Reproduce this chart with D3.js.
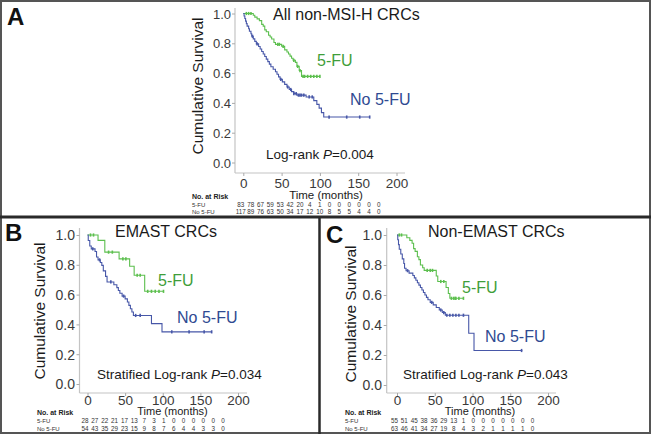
<!DOCTYPE html>
<html><head><meta charset="utf-8">
<script src="https://cdn.jsdelivr.net/npm/d3@7"></script>
<style>
body{margin:0;background:#fff}
svg{display:block}
text{font-family:"Liberation Sans",Arial,sans-serif}
</style>
</head><body>
<svg id="chart" width="651" height="434"></svg>
<script>
// ---------- DATA ----------
const xTicks = [0, 50, 100, 150, 200];
const yTicks = [0, 0.2, 0.4, 0.6, 0.8, 1.0];
const riskTimes = [0, 12, 24, 36, 48, 60, 72, 84, 96, 108, 120, 132, 144, 156, 168];
const groupNames = ["5-FU", "No 5-FU"];

// Panel A: All non-MSI-H CRCs
const aTitle = "All non-MSI-H CRCs";
const aFuSteps = [[0,1],[13,0.988],[15,0.976],[18,0.964],[21,0.952],[24,0.927],[26,0.915],[28,0.89],[30,0.878],[33,0.854],[35,0.842],[37,0.829],[40,0.805],[42,0.793],[50,0.78],[54,0.756],[57,0.742],[59,0.728],[61,0.714],[63,0.7],[65,0.686],[68,0.672],[70,0.645],[73,0.617],[76,0.578]];
const aFuEnd = 100;
const aFuCensor = [4,7,10,45,47,52,66,71,74,78,80,84,88,92,96,100];
const aNoSteps = [[0,1],[1,0.983],[2,0.966],[3,0.949],[4,0.932],[5,0.915],[7,0.898],[8,0.881],[10,0.864],[11,0.847],[13,0.83],[15,0.813],[17,0.796],[20,0.779],[22,0.762],[24,0.745],[26,0.728],[28,0.711],[30,0.694],[32,0.677],[34,0.66],[36,0.643],[39,0.626],[42,0.609],[44,0.592],[46,0.575],[48,0.558],[51,0.541],[54,0.524],[57,0.507],[60,0.49],[63,0.476],[66,0.462],[70,0.452],[82,0.44],[92,0.415],[96,0.39],[99,0.365],[102,0.335],[105,0.305]];
const aNoEnd = 165;
const aNoCensor = [12,18,49,58,62,66,69,72,74,76,79,86,90,112,135,152,165];
const aFuRisk = [83,78,67,59,53,42,20,4,1,0,0,0,0,0,0];
const aNoRisk = [117,89,76,63,50,34,17,12,10,8,5,5,4,4,0];
const aPText = ["Log-rank ", "P", "=0.004"];

// Panel B: EMAST CRCs
const bTitle = "EMAST CRCs";
const bFuSteps = [[0,1],[14,0.964],[23,0.885],[42,0.84],[56,0.79],[62,0.73],[76,0.622]];
const bFuEnd = 101;
const bFuCensor = [4,8,28,33,47,51,66,70,80,85,90,95,101];
const bNoSteps = [[0,1],[1,0.963],[3,0.926],[5,0.907],[10,0.889],[12,0.852],[14,0.833],[17,0.815],[19,0.796],[21,0.759],[24,0.722],[26,0.685],[35,0.666],[39,0.647],[41,0.628],[43,0.609],[46,0.59],[50,0.571],[53,0.55],[55,0.528],[57,0.505],[59,0.483],[61,0.46],[85,0.405],[99,0.35]];
const bNoEnd = 165;
const bNoCensor = [7,16,31,48,64,70,112,135,155,165];
const bFuRisk = [28,27,22,21,17,13,7,3,1,0,0,0,0,0,0];
const bNoRisk = [54,43,35,29,23,15,9,8,7,6,4,4,3,3,0];
const bPText = ["Stratified Log-rank ", "P", "=0.034"];

// Panel C: Non-EMAST CRCs
const cTitle = "Non-EMAST CRCs";
const cFuSteps = [[0,1],[13,0.982],[17,0.964],[20,0.945],[22,0.909],[24,0.891],[27,0.855],[29,0.836],[31,0.8],[34,0.782],[36,0.764],[52,0.727],[54,0.69],[65,0.65],[68,0.61],[70,0.578]];
const cFuEnd = 88;
const cFuCensor = [3,6,40,44,47,58,62,72,75,77,78,82,88];
const cNoSteps = [[0,1],[1,0.968],[2,0.936],[3,0.905],[5,0.873],[7,0.841],[9,0.81],[10,0.778],[12,0.762],[16,0.746],[21,0.73],[23,0.714],[25,0.698],[27,0.682],[29,0.666],[31,0.65],[33,0.633],[35,0.617],[37,0.6],[39,0.584],[41,0.568],[44,0.551],[48,0.534],[52,0.517],[56,0.5],[60,0.483],[64,0.465],[95,0.345],[102,0.23]];
const cNoEnd = 166;
const cNoCensor = [14,46,58,62,66,70,74,78,82,88,165];
const cFuRisk = [55,51,45,38,36,29,13,1,0,0,0,0,0,0,0];
const cNoRisk = [63,46,41,34,27,19,8,4,3,2,1,1,1,1,0];
const cPText = ["Stratified Log-rank ", "P", "=0.043"];

// ---------- STYLE ----------
const fuLine = "#5cbf4e", noLine = "#4757a8";
const fuText = "#3f9e3a", noText = "#2f4a92";
const axisCol = "#c4c4c4";

const svg = d3.select("#chart");
svg.append("rect").attr("width",651).attr("height",434).attr("fill","#fff");

function survAt(steps, t){
  let s = steps[0][1];
  for (const d of steps){ if (d[0] <= t) s = d[1]; }
  return s;
}

function drawPanel(c){
  const g = svg.append("g");
  const x = d3.scaleLinear().domain([0,200]).range([c.x0, c.x200]);
  const y = d3.scaleLinear().domain([0,1]).range([c.y0, c.y1]);

  g.append("line").attr("x1",c.axX).attr("x2",c.axX).attr("y1",c.axTop).attr("y2",c.axY)
    .attr("stroke",axisCol).attr("stroke-width",1.2);
  g.append("line").attr("x1",c.axX).attr("x2",c.axRight).attr("y1",c.axY).attr("y2",c.axY)
    .attr("stroke",axisCol).attr("stroke-width",1.2);

  const ya = g.append("g").attr("transform",`translate(${c.axX},0)`)
    .call(d3.axisLeft(y).tickValues(yTicks).tickFormat(d3.format(".1f")).tickSize(3));
  ya.select(".domain").remove();
  ya.selectAll(".tick line").attr("stroke","#aaa");
  ya.selectAll(".tick text").attr("x",c.yLabRight - c.axX).attr("dy","0.35em")
    .attr("font-size",c.yTickFs).attr("fill","#3a3a3a").attr("font-family","Liberation Sans, Arial, sans-serif");

  const xa = g.append("g").attr("transform",`translate(0,${c.axY})`)
    .call(d3.axisBottom(x).tickValues(xTicks).tickSize(3));
  xa.select(".domain").remove();
  xa.selectAll(".tick line").attr("stroke","#aaa");
  xa.selectAll(".tick text").attr("y",c.xLabY - c.axY).attr("dy","0.35em")
    .attr("font-size",c.xTickFs).attr("fill","#3a3a3a").attr("font-family","Liberation Sans, Arial, sans-serif");

  const line = d3.line().x(d=>x(d[0])).y(d=>y(d[1])).curve(d3.curveStepAfter);
  const series = [
    {steps:c.fuSteps, end:c.fuEnd, cens:c.fuCensor, col:fuLine},
    {steps:c.noSteps, end:c.noEnd, cens:c.noCensor, col:noLine}
  ];
  series.forEach(s=>{
    const pts = s.steps.concat([[s.end, s.steps[s.steps.length-1][1]]]);
    g.append("path").attr("d",line(pts)).attr("fill","none").attr("stroke",s.col).attr("stroke-width",1.1);
    g.selectAll(null).data(s.cens).enter().append("line")
      .attr("x1",d=>x(d)).attr("x2",d=>x(d))
      .attr("y1",d=>y(survAt(s.steps,d))-1.6).attr("y2",d=>y(survAt(s.steps,d))+1.6)
      .attr("stroke",s.col).attr("stroke-width",1.6);
  });

  g.append("text").attr("x",c.titleX).attr("y",c.titleY).attr("dy","0.35em")
    .attr("font-size",16).attr("fill","#1a1a1a").text(c.title);
  g.append("text").attr("x",c.fuLabX).attr("y",c.fuLabY).attr("dy","0.35em")
    .attr("font-size",16).attr("fill",fuText).text(groupNames[0]);
  g.append("text").attr("x",c.noLabX).attr("y",c.noLabY).attr("dy","0.35em")
    .attr("font-size",16).attr("fill",noText).text(groupNames[1]);
  const pt = g.append("text").attr("x",c.pX).attr("y",c.pY).attr("dy","0.35em")
    .attr("font-size",13.5).attr("fill","#1a1a1a");
  pt.append("tspan").text(c.pText[0]);
  pt.append("tspan").attr("font-style","italic").text(c.pText[1]);
  pt.append("tspan").text(c.pText[2]);

  g.append("text").attr("transform",`translate(${c.ylabX},${c.ylabY}) rotate(-90)`)
    .attr("text-anchor","middle").attr("dy","0.35em").attr("font-size",15.5).attr("fill","#1a1a1a")
    .text("Cumulative Survival");
  g.append("text").attr("x",c.timeX).attr("y",c.timeY).attr("dy","0.35em")
    .attr("text-anchor","middle").attr("font-size",c.timeFs).attr("fill","#1a1a1a").text("Time (months)");

  const rx = d3.scaleLinear().domain([0,168]).range([c.x0 - 2.5, c.x0 - 2.5 + 138]);
  g.append("text").attr("x",c.riskLabX).attr("y",c.riskHeadY).attr("dy","0.35em")
    .attr("font-size",7).attr("font-weight","bold").attr("fill","#222").text("No. at Risk");
  [[groupNames[0], c.fuRisk, c.riskRow1Y],[groupNames[1], c.noRisk, c.riskRow2Y]].forEach(r=>{
    g.append("text").attr("x",c.riskLabX).attr("y",r[2]).attr("dy","0.35em")
      .attr("font-size",6).attr("fill","#333").text(r[0]);
    g.selectAll(null).data(r[1]).enter().append("text")
      .attr("x",(d,i)=>rx(riskTimes[i])).attr("y",r[2]).attr("dy","0.35em")
      .attr("text-anchor","middle").attr("font-size",6.3).attr("fill","#333").text(d=>d);
  });

  svg.append("text").attr("x",c.letterX).attr("y",c.letterY)
    .attr("font-family","Lato, 'Open Sans', sans-serif").attr("font-weight","bold")
    .attr("font-size",24).attr("fill","#111").text(c.letter);
}

drawPanel({
  letter:"A", letterX:7, letterY:25,
  x0:243.3, x200:396.5, y0:162.5, y1:13.5,
  axX:235, axTop:8, axY:173, axRight:405, yLabRight:231, xLabY:183.5, yTickFs:13, xTickFs:13.5,
  title:aTitle, titleX:273, titleY:14,
  fuLabX:317, fuLabY:60, noLabX:350, noLabY:99, pX:266, pY:154, pText:aPText,
  ylabX:198, ylabY:86, timeX:326, timeY:195, timeFs:11.5,
  riskLabX:192, riskHeadY:197, riskRow1Y:204.5, riskRow2Y:212,
  fuSteps:aFuSteps, fuEnd:aFuEnd, fuCensor:aFuCensor, noSteps:aNoSteps, noEnd:aNoEnd, noCensor:aNoCensor,
  fuRisk:aFuRisk, noRisk:aNoRisk
});
drawPanel({
  letter:"B", letterX:5, letterY:241,
  x0:87.5, x200:238, y0:384, y1:235,
  axX:79.5, axTop:228, axY:393, axRight:247, yLabRight:75, xLabY:400, yTickFs:14, xTickFs:13.5,
  title:bTitle, titleX:115, titleY:231,
  fuLabX:158, fuLabY:280, noLabX:177, noLabY:317, pX:97, pY:374, pText:bPText,
  ylabX:40, ylabY:311, timeX:172.5, timeY:411, timeFs:11,
  riskLabX:37, riskHeadY:413, riskRow1Y:420.8, riskRow2Y:428.4,
  fuSteps:bFuSteps, fuEnd:bFuEnd, fuCensor:bFuCensor, noSteps:bNoSteps, noEnd:bNoEnd, noCensor:bNoCensor,
  fuRisk:bFuRisk, noRisk:bNoRisk
});
drawPanel({
  letter:"C", letterX:326, letterY:243,
  x0:397, x200:548, y0:385, y1:235,
  axX:386.7, axTop:228, axY:393, axRight:556, yLabRight:382, xLabY:400, yTickFs:14, xTickFs:13.5,
  title:cTitle, titleX:428, titleY:231,
  fuLabX:462, fuLabY:287, noLabX:485, noLabY:336, pX:403, pY:374, pText:cPText,
  ylabX:351, ylabY:314, timeX:480, timeY:411, timeFs:11,
  riskLabX:345, riskHeadY:413, riskRow1Y:421, riskRow2Y:428.6,
  fuSteps:cFuSteps, fuEnd:cFuEnd, fuCensor:cFuCensor, noSteps:cNoSteps, noEnd:cNoEnd, noCensor:cNoCensor,
  fuRisk:cFuRisk, noRisk:cNoRisk
});

svg.append("rect").attr("x",1).attr("y",1).attr("width",649).attr("height",432)
  .attr("fill","none").attr("stroke","#555").attr("stroke-width",2);
svg.append("line").attr("x1",0).attr("x2",651).attr("y1",217).attr("y2",217)
  .attr("stroke","#2a2a2a").attr("stroke-width",3);
svg.append("line").attr("x1",319.5).attr("x2",319.5).attr("y1",217).attr("y2",434)
  .attr("stroke","#2a2a2a").attr("stroke-width",2.5);
</script>
</body></html>
